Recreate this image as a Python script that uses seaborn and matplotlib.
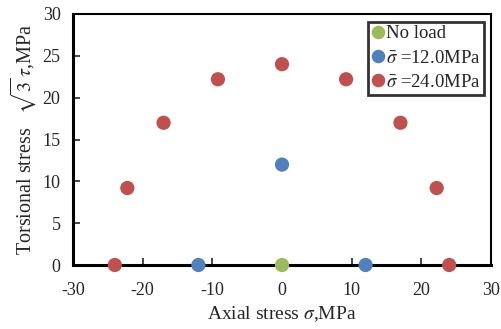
import matplotlib
matplotlib.use("Agg")
import matplotlib.pyplot as plt
import seaborn as sns
import pandas as pd

series_names = ["No load", "$\\bar{\\sigma}$ =12.0MPa", "$\\bar{\\sigma}$ =24.0MPa"]
noload_x = [0]
noload_y = [0]
s12_x = [-12, 0, 12]
s12_y = [0, 12, 0]
s24_x = [-24, -22.2, -17, -9.2, 0, 9.2, 17, 22.2, 24]
s24_y = [0, 9.2, 17, 22.2, 24, 22.2, 17, 9.2, 0]
colors = ["#9BBB59", "#4F81BD", "#C0504D"]
x_ticks = [-30, -20, -10, 0, 10, 20, 30]
y_ticks = [0, 5, 10, 15, 20, 25, 30]

rows = []
for name, xs, ys in zip(series_names, [noload_x, s12_x, s24_x], [noload_y, s12_y, s24_y]):
    for x, y in zip(xs, ys):
        rows.append({"x": x, "y": y, "series": name})
df = pd.DataFrame(rows)

sns.set_style("ticks")
plt.rcParams["font.family"] = ["Liberation Serif", "DejaVu Serif"]
plt.rcParams["mathtext.fontset"] = "stix"
plt.rcParams["axes.unicode_minus"] = False

fig = plt.figure(figsize=(5.02, 3.29), dpi=100)
ax = fig.add_axes([73/502, 1 - 265/329, (491-73)/502, (265-14)/329])
sns.scatterplot(data=df, x="x", y="y", hue="series", palette=colors,
                hue_order=series_names, s=105, edgecolor="none", ax=ax, zorder=3,
                clip_on=False)
ax.set_xlim(-30, 30)
ax.set_ylim(0, 30)
ax.set_xticks(x_ticks)
ax.set_yticks(y_ticks)
ax.tick_params(direction="in", length=5, width=1.2, labelsize=13)
ax.tick_params(axis="x", pad=12)
ax.tick_params(axis="y", pad=9)
for sp in ax.spines.values():
    sp.set_linewidth(1.5)
    sp.set_color("black")
ax.spines["left"].set_linewidth(2.2)
ax.spines["bottom"].set_linewidth(2.2)
ax.set_xlabel("Axial stress $\\sigma$,MPa", fontsize=14, labelpad=4)
ax.set_ylabel("Torsional stress   $\\sqrt{3}\\,\\tau$,MPa", fontsize=14.5, labelpad=3)
leg = ax.legend(loc="upper right", bbox_to_anchor=(0.993, 0.985), frameon=True,
                fontsize=13.5, handletextpad=0.05, borderpad=0.2, labelspacing=0.38,
                handlelength=0.7, fancybox=False, borderaxespad=0.2, markerscale=0.95)
leg.get_frame().set_edgecolor("black")
leg.get_frame().set_linewidth(2.0)
fig.savefig("out.png", dpi=100)
